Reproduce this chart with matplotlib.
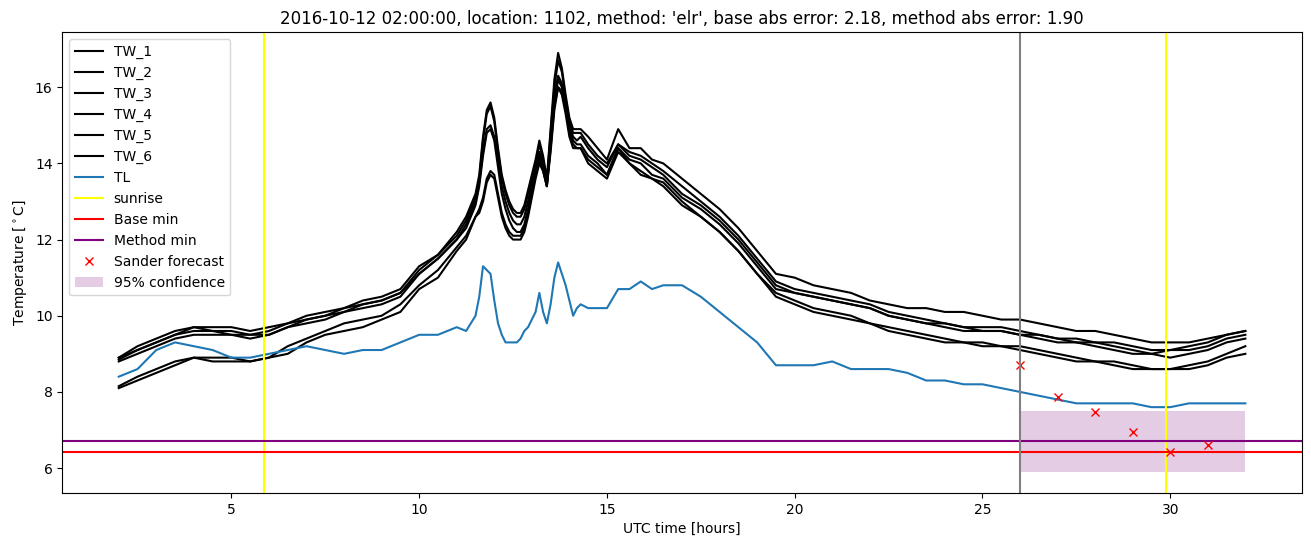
import matplotlib
matplotlib.use("Agg")
import matplotlib.pyplot as plt

# -------------------------------
# data
# -------------------------------
hours = [2.0, 2.5, 3.0, 3.5, 4.0, 4.5, 5.0, 5.5, 6.0, 6.5, 7.0, 7.5, 8.0, 8.5, 9.0, 9.5, 10.0, 10.5, 11.0,
         11.25, 11.5, 11.6, 11.7, 11.8, 11.9, 12.0, 12.1, 12.2, 12.3, 12.4, 12.5, 12.6, 12.7, 12.8, 12.9,
         13.0, 13.1, 13.2, 13.3, 13.4, 13.5, 13.6, 13.7, 13.8, 13.9, 14.0, 14.1, 14.2, 14.3,
         14.5, 14.75, 15.0, 15.3, 15.6, 15.9, 16.2,
         16.5, 17.0, 17.5, 18.0, 18.5, 19.0, 19.5, 20.0, 20.5, 21.0, 21.5, 22.0, 22.5, 23.0, 23.5, 24.0,
         24.5, 25.0, 25.5, 26.0, 26.5, 27.0, 27.5, 28.0, 28.5, 29.0, 29.5, 30.0, 30.5, 31.0, 31.5, 32.0]

tw_1 = [8.9, 9.2, 9.4, 9.6, 9.7, 9.7, 9.7, 9.6, 9.7, 9.8, 10.0, 10.1, 10.2, 10.4, 10.5, 10.7, 11.3, 11.6, 12.2,
        12.6, 13.2, 13.7, 14.7, 15.4, 15.6, 15.2, 14.4, 13.7, 13.3, 13.0, 12.8, 12.7, 12.7, 12.9, 13.3,
        13.7, 14.1, 14.6, 14.2, 13.6, 14.9, 16.2, 16.9, 16.5, 15.8, 15.2, 14.9, 14.9, 14.9,
        14.7, 14.4, 14.1, 14.9, 14.4, 14.4, 14.1,
        14.0, 13.6, 13.2, 12.8, 12.3, 11.7, 11.1, 11.0, 10.8, 10.7, 10.6, 10.4, 10.3, 10.2, 10.2, 10.1,
        10.1, 10.0, 9.9, 9.9, 9.8, 9.7, 9.6, 9.6, 9.5, 9.4, 9.3, 9.3, 9.3, 9.4, 9.5, 9.6]
tw_2 = [8.9, 9.1, 9.3, 9.5, 9.7, 9.6, 9.6, 9.5, 9.6, 9.8, 9.9, 10.0, 10.2, 10.3, 10.4, 10.6, 11.2, 11.6, 12.1,
        12.5, 13.1, 13.6, 14.6, 15.3, 15.5, 15.1, 14.3, 13.6, 13.2, 12.9, 12.7, 12.6, 12.6, 12.8, 13.2,
        13.6, 14.0, 14.5, 14.1, 13.5, 14.8, 16.0, 16.7, 16.4, 15.7, 15.1, 14.8, 14.8, 14.8,
        14.5, 14.2, 14.0, 14.5, 14.3, 14.2, 14.0,
        13.8, 13.4, 13.0, 12.6, 12.1, 11.5, 10.9, 10.7, 10.6, 10.5, 10.4, 10.3, 10.1, 10.0, 9.9, 9.8,
        9.7, 9.7, 9.7, 9.6, 9.5, 9.4, 9.4, 9.3, 9.3, 9.2, 9.1, 9.1, 9.2, 9.3, 9.5, 9.6]
tw_3 = [8.85, 9.1, 9.3, 9.5, 9.6, 9.6, 9.5, 9.5, 9.5, 9.7, 9.9, 10.0, 10.1, 10.3, 10.4, 10.6, 11.1, 11.5, 12.0,
        12.4, 13.0, 13.5, 14.3, 14.9, 15.0, 14.7, 14.1, 13.4, 13.0, 12.7, 12.5, 12.4, 12.4, 12.6, 13.0,
        13.5, 13.9, 14.3, 14.0, 13.5, 14.6, 15.8, 16.3, 16.1, 15.6, 15.0, 14.7, 14.6, 14.7,
        14.4, 14.1, 13.9, 14.5, 14.2, 14.1, 13.9,
        13.7, 13.2, 12.9, 12.5, 12.0, 11.4, 10.8, 10.6, 10.5, 10.4, 10.3, 10.2, 10.0, 9.9, 9.8, 9.8,
        9.7, 9.6, 9.6, 9.5, 9.5, 9.4, 9.3, 9.3, 9.2, 9.1, 9.0, 9.1, 9.1, 9.2, 9.4, 9.5]
tw_4 = [8.8, 9.0, 9.2, 9.4, 9.5, 9.5, 9.5, 9.4, 9.5, 9.7, 9.8, 9.9, 10.1, 10.2, 10.3, 10.5, 11.1, 11.5, 12.0,
        12.3, 12.9, 13.4, 14.2, 14.8, 14.9, 14.6, 13.9, 13.2, 12.8, 12.5, 12.3, 12.2, 12.2, 12.4, 12.8,
        13.3, 13.8, 14.2, 13.9, 13.4, 14.5, 15.6, 16.2, 16.0, 15.5, 14.9, 14.6, 14.5, 14.5,
        14.2, 14.0, 13.7, 14.4, 14.1, 14.0, 13.7,
        13.6, 13.1, 12.8, 12.4, 11.9, 11.3, 10.7, 10.6, 10.5, 10.4, 10.3, 10.2, 10.0, 9.9, 9.8, 9.7,
        9.6, 9.6, 9.6, 9.5, 9.4, 9.3, 9.3, 9.2, 9.1, 9.0, 9.0, 8.9, 9.0, 9.1, 9.3, 9.4]
tw_5 = [8.15, 8.4, 8.6, 8.8, 8.9, 8.9, 8.9, 8.8, 8.9, 9.2, 9.4, 9.6, 9.8, 9.9, 10.0, 10.3, 10.8, 11.2, 11.8,
        12.1, 12.6, 12.8, 13.1, 13.6, 13.8, 13.7, 13.2, 12.7, 12.4, 12.2, 12.1, 12.1, 12.1, 12.3, 12.7,
        13.2, 13.7, 14.1, 13.8, 13.4, 14.4, 15.5, 16.0, 15.9, 15.4, 14.8, 14.5, 14.4, 14.4,
        14.1, 13.9, 13.7, 14.4, 14.0, 13.8, 13.6,
        13.5, 13.0, 12.6, 12.2, 11.7, 11.1, 10.6, 10.4, 10.2, 10.1, 10.0, 9.8, 9.7, 9.6, 9.5, 9.4,
        9.3, 9.3, 9.2, 9.2, 9.1, 9.0, 8.9, 8.8, 8.8, 8.7, 8.6, 8.6, 8.7, 8.8, 9.0, 9.2]
tw_6 = [8.1, 8.3, 8.5, 8.7, 8.9, 8.8, 8.8, 8.8, 8.9, 9.0, 9.3, 9.5, 9.6, 9.7, 9.9, 10.1, 10.7, 11.0, 11.7,
        12.0, 12.6, 12.7, 13.0, 13.5, 13.7, 13.6, 13.1, 12.6, 12.3, 12.1, 12.0, 12.0, 12.0, 12.2, 12.6,
        13.1, 13.6, 14.0, 13.8, 13.4, 14.3, 15.4, 16.0, 15.8, 15.3, 14.7, 14.4, 14.4, 14.4,
        14.0, 13.8, 13.6, 14.3, 14.0, 13.7, 13.6,
        13.4, 12.9, 12.6, 12.2, 11.7, 11.1, 10.5, 10.3, 10.1, 10.0, 9.9, 9.8, 9.6, 9.5, 9.4, 9.3,
        9.3, 9.2, 9.2, 9.1, 9.0, 8.9, 8.8, 8.8, 8.7, 8.6, 8.6, 8.6, 8.6, 8.7, 8.9, 9.0]
tl = [8.4, 8.6, 9.1, 9.3, 9.2, 9.1, 8.9, 8.9, 9.0, 9.1, 9.2, 9.1, 9.0, 9.1, 9.1, 9.3, 9.5, 9.5, 9.7,
      9.6, 10.0, 10.5, 11.3, 11.2, 11.1, 10.4, 9.8, 9.5, 9.3, 9.3, 9.3, 9.3, 9.4, 9.6, 9.7,
      9.9, 10.1, 10.6, 10.1, 9.8, 10.3, 11.0, 11.4, 11.1, 10.8, 10.4, 10.0, 10.2, 10.3,
      10.2, 10.2, 10.2, 10.7, 10.7, 10.9, 10.7,
      10.8, 10.8, 10.5, 10.1, 9.7, 9.3, 8.7, 8.7, 8.7, 8.8, 8.6, 8.6, 8.6, 8.5, 8.3, 8.3,
      8.2, 8.2, 8.1, 8.0, 7.9, 7.8, 7.7, 7.7, 7.7, 7.7, 7.6, 7.6, 7.7, 7.7, 7.7, 7.7]

sunrise_hours = [5.88, 29.90]
forecast_start = 26.0
base_min = 6.42
method_min = 6.71

sander_hours = [26, 27, 28, 29, 30, 31]
sander_temp = [8.71, 7.87, 7.47, 6.94, 6.41, 6.61]

conf_hours = [26, 32]
conf_low = [5.9, 5.9]
conf_high = [7.5, 7.5]

title = ("2016-10-12 02:00:00, location: 1102, method: 'elr', "
         "base abs error: 2.18, method abs error: 1.90")

# -------------------------------
# plot
# -------------------------------
fig, ax = plt.subplots(figsize=(13.11, 5.47), dpi=100)
fig.subplots_adjust(left=0.0476, right=0.9929, top=0.9415, bottom=0.099)

for name, vals in [("TW_1", tw_1), ("TW_2", tw_2), ("TW_3", tw_3),
                   ("TW_4", tw_4), ("TW_5", tw_5), ("TW_6", tw_6)]:
    ax.plot(hours, vals, color="black", label=name)
ax.plot(hours, tl, color="C0", label="TL")

ax.axvline(sunrise_hours[0], color="yellow", label="sunrise")
ax.axvline(sunrise_hours[1], color="yellow")
ax.axhline(base_min, color="red", label="Base min")
ax.axhline(method_min, color="purple", label="Method min")
ax.plot(sander_hours, sander_temp, "x", color="red", label="Sander forecast")
ax.fill_between(conf_hours, conf_low, conf_high, color="purple", alpha=0.2,
                linewidth=0, label="95% confidence")
ax.axvline(forecast_start, color="grey")

ax.set_title(title)
ax.set_xlabel("UTC time [hours]")
ax.set_ylabel(r"Temperature [$^\circ$C]")
ax.legend(loc="upper left")

plt.savefig("out.png")
